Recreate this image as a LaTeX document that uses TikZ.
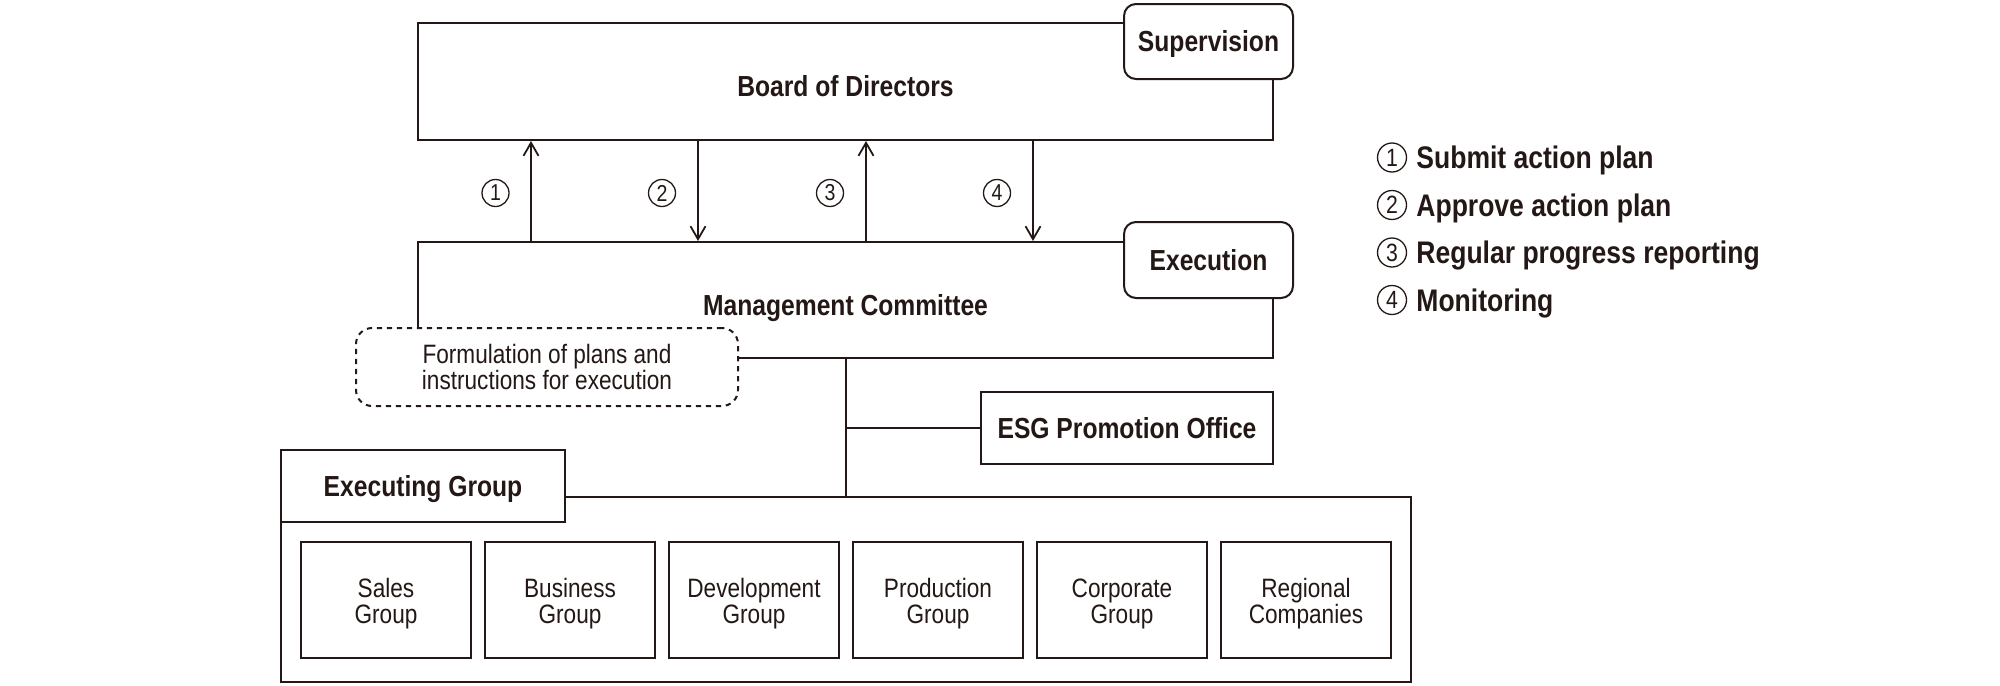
\documentclass[tikz,border=0pt]{standalone}
\usepackage{fontspec}
\setmainfont{Liberation Sans}[FakeStretch=0.85]
\usetikzlibrary{arrows.meta}
\definecolor{ink}{RGB}{35,24,21}
\newcommand\subtop{\rule{0pt}{13.7pt}}
\begin{document}
\begin{tikzpicture}[x=0.5pt,y=-0.5pt,
  every node/.style={text=ink},
  line/.style={draw=ink,line width=1pt},
  box/.style={line,fill=white,inner sep=0pt,rectangle},
  rbox/.style={box,rounded corners=6pt},
  dbox/.style={box,rounded corners=8pt,dash pattern=on 2.6pt off 2.4pt},
  bl/.style={font=\fontsize{14.5}{17}\selectfont\bfseries,text height=10.4pt,text depth=0pt},
  rg/.style={font=\fontsize{13.3}{13}\selectfont,align=center},
  arr/.style={line,-{Straight Barb[length=6.5pt,width=7.5pt,line width=0.9pt]}},
  num/.style={circle,draw=ink,line width=0.65pt,minimum size=13.5pt,inner sep=0pt,font=\fontsize{11.5}{12}\selectfont},
  lnum/.style={num,minimum size=14.5pt,font=\fontsize{12.5}{14}\selectfont},
  leg/.style={anchor=base west,font=\fontsize{15.6}{18}\selectfont\bfseries,inner sep=0pt},
  sub/.style={box,minimum width=85pt,minimum height=58pt,rg},
]
\useasboundingbox (0,0) rectangle (2000,685);

% Board of Directors
\node[box,bl,text height=15.4pt,minimum width=427.5pt,minimum height=58.5pt] (board) at (845.5,81.5) {Board of Directors};
\node[rbox,bl,minimum width=84.5pt,minimum height=37.5pt] (sup) at (1208.5,41.5) {Supervision};

% Management Committee
\node[box,minimum width=427.5pt,minimum height=58pt] (mgmt) at (845.5,300) {};
\node[anchor=base,font=\fontsize{14.5}{17}\selectfont\bfseries,inner sep=0pt] (mgmttext) at (845.5,315) {Management Committee};
\node[rbox,bl,minimum width=84.5pt,minimum height=38pt] (exe) at (1208.5,260) {Execution};
\node[dbox,rg,minimum width=191pt,minimum height=39pt] (form) at (547,367) {Formulation of plans and\\instructions for execution};

% arrows
\coordinate (a1) at (531,0);
\coordinate (a2) at (698,0);
\coordinate (a3) at (866,0);
\coordinate (a4) at (1033,0);
\draw[arr] (mgmt.north -| a1) -- (board.south -| a1);
\draw[arr] (board.south -| a2) -- (mgmt.north -| a2);
\draw[arr] (mgmt.north -| a3) -- (board.south -| a3);
\draw[arr] (board.south -| a4) -- (mgmt.north -| a4);
\node[num] (n1) at (495.5,193) {1};
\node[num] (n2) at (662,193) {2};
\node[num] (n3) at (830,193) {3};
\node[num] (n4) at (997,193) {4};

% ESG
\node[box,bl,minimum width=146pt,minimum height=36pt] (esg) at (1127,428) {ESG Promotion Office};

% Executing Group
\node[box,minimum width=565pt,minimum height=92.5pt] (execbox) at (846,589.5) {};
\node[box,bl,minimum width=142pt,minimum height=36pt] (execlabel) at (423,486) {Executing Group};

\draw[line] (mgmt.south) -- (mgmt.south |- execbox.north);
\draw[line] (esg.west) -- (esg.west -| mgmt.south);

\node[sub] (s1) at (386,600) {\subtop Sales\\Group};
\node[sub] (s2) at (570,600) {\subtop Business\\Group};
\node[sub] (s3) at (754,600) {\subtop Development\\Group};
\node[sub] (s4) at (938,600) {\subtop Production\\Group};
\node[sub] (s5) at (1122,600) {\subtop Corporate\\Group};
\node[sub] (s6) at (1306,600) {\subtop Regional\\Companies};

% Legend
\node[lnum] (l1) at (1392,157.5) {1};
\node[lnum] (l2) at (1392,205) {2};
\node[lnum] (l3) at (1392,252.5) {3};
\node[lnum] (l4) at (1392,300) {4};
\node[leg] (t1) at (1416,168.5) {Submit action plan};
\node[leg] (t2) at (1416,216) {Approve action plan};
\node[leg] (t3) at (1416,263.5) {Regular progress reporting};
\node[leg] (t4) at (1416,311) {Monitoring};
\end{tikzpicture}
\end{document}
